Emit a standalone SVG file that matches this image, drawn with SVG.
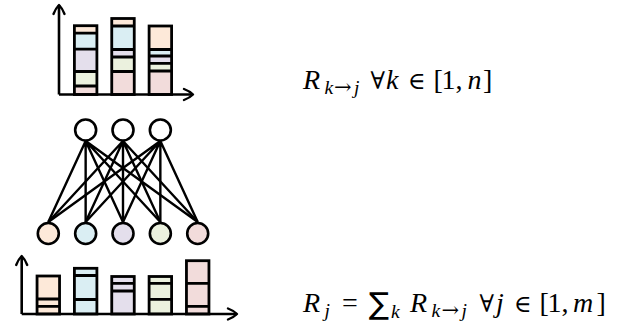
<svg xmlns="http://www.w3.org/2000/svg" width="641" height="329" viewBox="0 0 641 329">
<defs>
<marker id="arr" viewBox="-11 -7 14 14" markerWidth="14" markerHeight="14" refX="0" refY="0" orient="auto" markerUnits="userSpaceOnUse" overflow="visible">
<path d="M-9,-5.5 C-5,-4 -1.5,-1.5 0,0 C-1.5,1.5 -5,4 -9,5.5" fill="none" stroke="#000" stroke-width="2.4" stroke-linecap="round" stroke-linejoin="round"/>
</marker>
<style>
.ax{fill:none;stroke:#000;stroke-width:2.6;marker-end:url(#arr)}
.bar{stroke:#000;stroke-width:2.8}
.sep{stroke:#000;stroke-width:2.8}
.pe{fill:#fde9d9}.bl{fill:#daeef3}.pu{fill:#e4dfec}.gr{fill:#ebf1de}.pk{fill:#f2dcdb}
.node{stroke:#000;stroke-width:2.6}
.edge{stroke:#000;stroke-width:2.4;fill:none}
.m{font-family:"Liberation Serif","DejaVu Serif",serif;font-size:28px;fill:#000}
.i{font-style:italic}
.s{font-size:19.5px}
.sym{font-family:"DejaVu Serif",serif;font-size:24px}
.ar{font-family:"DejaVu Serif",serif;font-size:21px}
.sum{font-family:"DejaVu Sans",sans-serif;font-size:30px}
</style>
</defs>

<g id="top-chart">
<rect class="pe" x="74.4" y="25.7" width="22.5" height="7.5"/>
<rect class="bl" x="74.4" y="33.2" width="22.5" height="16"/>
<rect class="pu" x="74.4" y="49.2" width="22.5" height="22.3"/>
<rect class="gr" x="74.4" y="71.5" width="22.5" height="14.5"/>
<rect class="pk" x="74.4" y="86" width="22.5" height="8.5"/>
<rect x="74.4" y="25.7" width="22.5" height="68.8" fill="none" class="bar"/>
<path class="sep" d="M74.4,33.2H96.9M74.4,49.2H96.9M74.4,71.5H96.9M74.4,86H96.9"/>

<rect class="pe" x="111.75" y="18.5" width="22.5" height="7.5"/>
<rect class="bl" x="111.75" y="26" width="22.5" height="23.5"/>
<rect class="pu" x="111.75" y="49.5" width="22.5" height="7.5"/>
<rect class="gr" x="111.75" y="57" width="22.5" height="14.5"/>
<rect class="pk" x="111.75" y="71.5" width="22.5" height="23"/>
<rect x="111.75" y="18.5" width="22.5" height="76" fill="none" class="bar"/>
<path class="sep" d="M111.75,26H134.25M111.75,49.5H134.25M111.75,57H134.25M111.75,71.5H134.25"/>

<rect class="pe" x="149.1" y="26" width="22.5" height="23.5"/>
<rect class="bl" x="149.1" y="49.5" width="22.5" height="6.5"/>
<rect class="pu" x="149.1" y="56" width="22.5" height="7.3"/>
<rect class="gr" x="149.1" y="63.3" width="22.5" height="7.7"/>
<rect class="pk" x="149.1" y="71" width="22.5" height="23.5"/>
<rect x="149.1" y="26" width="22.5" height="68.5" fill="none" class="bar"/>
<path class="sep" d="M149.1,49.5H171.6M149.1,56H171.6M149.1,63.3H171.6M149.1,71H171.6"/>

<path class="ax" d="M59,94.5V5"/>
<path class="ax" d="M59,94.5H193"/>
</g>

<g id="connectors">
<path class="edge" d="M85.65,141 L48.3,222 M85.65,141 L85.65,222 M85.65,141 L123,222 M85.65,141 L160.35,222 M85.65,141 L197.7,222"/>
<path class="edge" d="M123,141 L48.3,222 M123,141 L85.65,222 M123,141 L123,222 M123,141 L160.35,222 M123,141 L197.7,222"/>
<path class="edge" d="M160.35,141 L48.3,222 M160.35,141 L85.65,222 M160.35,141 L123,222 M160.35,141 L160.35,222 M160.35,141 L197.7,222"/>
</g>

<g id="h1"><circle class="node" cx="85.65" cy="130" r="10.5" fill="#fff"/></g>
<g id="h2"><circle class="node" cx="123" cy="130" r="10.5" fill="#fff"/></g>
<g id="h3"><circle class="node" cx="160.35" cy="130" r="10.5" fill="#fff"/></g>
<g id="in1"><circle class="node pe" cx="48.3" cy="233.5" r="10.5"/></g>
<g id="in2"><circle class="node bl" cx="85.65" cy="233.5" r="10.5"/></g>
<g id="in3"><circle class="node pu" cx="123" cy="233.5" r="10.5"/></g>
<g id="in4"><circle class="node gr" cx="160.35" cy="233.5" r="10.5"/></g>
<g id="in5"><circle class="node pk" cx="197.7" cy="233.5" r="10.5"/></g>

<g id="bottom-chart">
<rect class="pe bar" x="37.05" y="276" width="22.5" height="38"/>
<path class="sep" d="M37.05,299H59.55M37.05,306.3H59.55"/>
<rect class="bl bar" x="74.4" y="268.3" width="22.5" height="45.7"/>
<path class="sep" d="M74.4,275.5H96.9M74.4,299.5H96.9"/>
<rect class="pu bar" x="111.75" y="276.5" width="22.5" height="37.5"/>
<path class="sep" d="M111.75,283.3H134.25M111.75,291H134.25"/>
<rect class="gr bar" x="149.1" y="276.5" width="22.5" height="37.5"/>
<path class="sep" d="M149.1,283.3H171.6M149.1,299.3H171.6"/>
<rect class="pk bar" x="186.45" y="260.7" width="22.5" height="53.3"/>
<path class="sep" d="M186.45,283.3H208.95M186.45,306.3H208.95"/>
<path class="ax" d="M21.7,314V256"/>
<path class="ax" d="M21.7,314H237"/>
</g>

<g id="label-top">
<text class="m" y="88.5"><tspan class="i" x="303">R</tspan><tspan class="i s" x="324.5" y="93.5">k</tspan><tspan class="ar" x="334">→</tspan><tspan class="i s" x="354">j</tspan><tspan class="sym" x="370.5" y="88.5">∀</tspan><tspan class="i" x="386">k</tspan><tspan class="sym" x="408">∈</tspan><tspan x="433.5">[</tspan><tspan x="441.5">1</tspan><tspan x="455.5">,</tspan><tspan class="i" x="467.5">n</tspan><tspan x="483">]</tspan></text>
</g>
<g id="label-bottom">
<text class="m" y="311.5"><tspan class="i" x="303">R</tspan><tspan class="i s" x="324.5" y="316.5">j</tspan><tspan x="342" y="311.5">=</tspan><tspan class="sum" x="369" y="314">∑</tspan><tspan class="i s" x="391" y="318">k</tspan><tspan class="i" x="410" y="311.5">R</tspan><tspan class="i s" x="431.5" y="316.5">k</tspan><tspan class="ar" x="441.5">→</tspan><tspan class="i s" x="461.5">j</tspan><tspan class="sym" x="479.5" y="311.5">∀</tspan><tspan class="i" x="496">j</tspan><tspan class="sym" x="514">∈</tspan><tspan x="539.5">[</tspan><tspan x="547.5">1</tspan><tspan x="561.5">,</tspan><tspan class="i" x="573">m</tspan><tspan x="596.5">]</tspan></text>
</g>
</svg>
